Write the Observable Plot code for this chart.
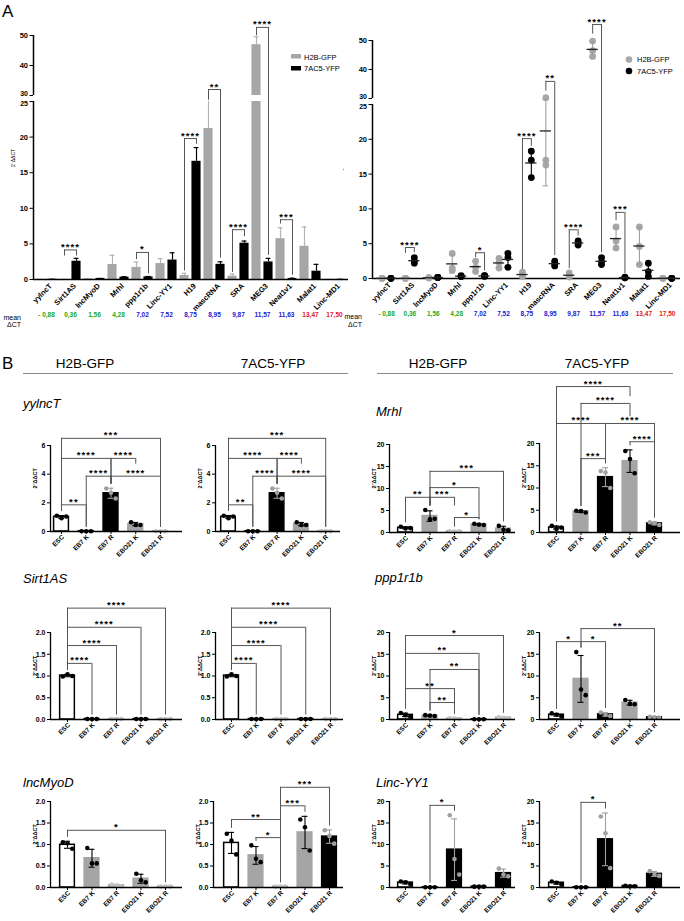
<!DOCTYPE html>
<html><head><meta charset="utf-8">
<script src="https://cdn.jsdelivr.net/npm/d3@7"></script>
<script src="https://cdn.jsdelivr.net/npm/@observablehq/plot@0.6"></script>
<style>
body{margin:0;background:#fff;}
#root{position:relative;width:684px;height:921px;overflow:hidden;background:#fff;}
</style></head><body><div id="root"></div>
<script>
// ---------------- DATA ----------------
// Panel A
const genes = ["yylncT","Sirt1AS","lncMyoD","Mrhl","ppp1r1b","Linc-YY1","H19","mascRNA","SRA","MEG3","Neat1v1","Malat1","Linc-MD1"];
const meanDCT = ["- 0,88","0,36","1,56","4,28","7,02","7,52","8,75","8,95","9,87","11,57","11,63","13,47","17,50"];
const dctClass = ["g","g","g","g","b","b","b","b","b","b","b","r","r"];
const h2bA = [[0.02,0.02,0.02],[0.02,0.02,0.02],[0.1,0.08,0.12],[1.2,1.5,3.6],[1.0,1.6,2.5],[1.5,2.3,2.9],[0.3,0.5,0.9],[16.3,17.0,30.3],[0.2,0.4,0.8],[44.5,46.5,49.8],[4.4,5.4,7.4],[2.0,4.6,7.4],[0.02,0.02,0.02]];
const yfpA = [[0.03,0.03,0.03],[2.2,2.5,3.0],[0.15,0.15,0.15],[0.3,0.3,0.4],[0.3,0.4,0.4],[1.6,3.0,3.6],[14.5,17.0,18.3],[1.8,2.1,2.5],[4.8,5.1,5.4],[2.0,2.4,3.0],[0.1,0.1,0.2],[0.3,1.0,2.2],[0.02,0.02,0.02]];
const yTicksA = [0,5,10,15,20,25,30,40,50];
const bracketGenesA = ["Sirt1AS","ppp1r1b","H19","mascRNA","SRA","MEG3","Neat1v1"];
const bracketStarsA = ["****","*","****","**","****","****","***"];
const bracketTopAL = [4.15,3.8,19.8,32,7.0,52.7,8.4];
const legH2bAL = [3.3,2.8,1.2,26,1.0,49.9,7.8];
const legYfpAL = [3.3,0.8,19.0,3.0,6.0,3.4,0.6];
const bracketTopAR = [4.45,3.7,20.1,35.9,7.0,55.5,9.5];
const legH2bAR = [3.6,3.0,1.3,32.5,1.4,52.2,8.3];
const legYfpAR = [3.7,1.1,19.0,3.3,6.1,3.7,0.7];

// Panel B
const conds = ["ESC","EB7 K","EB7 R","EBO21 K","EBO21 R"];
const yylncT_H2B  = [[1.1,0.92,1.05],[0.02,0.02,0.02],[3.0,2.7,2.3],[0.65,0.45,0.45],[0.02,0.02,0.02]];
const yylncT_7AC5 = [[1.1,0.92,1.05],[0.02,0.02,0.02],[3.0,2.7,2.3],[0.65,0.45,0.45],[0.02,0.02,0.02]];
const Mrhl_H2B    = [[1.3,0.9,1.0],[5.1,3.0,3.1],[0.3,0.2,0.25],[2.0,1.8,1.7],[1.5,0.6,0.5]];
const Mrhl_7AC5   = [[1.5,0.8,1.1],[4.9,4.8,4.5],[13.8,13.5,10.0],[18.3,16.5,13.3],[2.3,2.1,1.7]];
const Sirt1AS_H2B = [[0.99,1.04,1.0],[0.01,0.01,0.01],[0.01,0.01,0.01],[0.01,0.01,0.01],[0.01,0.01,0.01]];
const Sirt1AS_7AC5= [[0.99,1.04,1.0],[0.01,0.01,0.01],[0.01,0.01,0.01],[0.01,0.01,0.01],[0.01,0.01,0.01]];
const ppp1r1b_H2B = [[1.5,1.0,0.7],[1.0,0.9,0.8],[0.3,0.2,0.1],[0.05,0.05,0.05],[0.5,0.4,0.3]];
const ppp1r1b_7AC5= [[1.4,1.1,0.8],[15.5,6.9,5.6],[1.6,1.1,0.8],[4.5,3.6,3.5],[0.6,0.5,0.4]];
const lncMyoD_H2B = [[1.05,1.03,0.9],[0.92,0.56,0.56],[0.07,0.05,0.03],[0.32,0.17,0.12],[0.02,0.02,0.02]];
const lncMyoD_7AC5= [[1.25,1.09,0.77],[0.98,0.67,0.59],[0.02,0.02,0.02],[1.58,1.4,0.86],[1.33,1.2,1.02]];
const LincYY1_H2B = [[1.4,1.2,0.8],[0.05,0.05,0.05],[16.8,6.6,3.0],[0.2,0.2,0.2],[4.4,3.0,2.6]];
const LincYY1_7AC5= [[1.4,1.1,0.8],[0.05,0.05,0.05],[16.5,12.6,4.5],[0.4,0.3,0.3],[3.8,3.0,2.7]];
// brackets: [from, to, height, stars, (leg bottom left), (leg bottom right)]
const yylncT_br = [[0,4,6.5,"***"],[0,2,5.1,"****"],[2,3,5.1,"****",null,4.7],[1,2,3.86,"****"],[2,4,3.86,"****"],[0,1,1.86,"**"]];
const MrhlH_br  = [[1,4,13.9,"***"],[1,3,10.2,"*"],[0,1,8.0,"**"],[1,2,8.0,"***",null,6.0],[2,3,3.4,"*"]];
const MrhlY_br  = [[0,3,32.8,"****",null,30.5],[1,3,29,"****",null,26],[0,2,24.5,"****"],[2,4,24.5,"****",17.5],[3,4,20.4,"****"],[1,2,16.6,"***"]];
const Sirt_br   = [[0,4,2.56,"****"],[0,3,2.12,"****"],[0,2,1.7,"****"],[0,1,1.29,"****"]];
const pppH_br   = [[0,4,19.3,"*"],[0,3,15.2,"**"],[1,3,11.5,"**"],[0,2,7.1,"**"],[1,2,3.9,"**"]];
const pppY_br   = [[1,4,20.9,"**",17.9],[0,1,17.9,"*"],[1,2,17.9,"*"]];
const lncH_br   = [[0,4,1.33,"*"]];
const lncY_br   = [[2,4,2.33,"***"],[2,3,1.9,"***"],[0,2,1.58,"**"],[1,2,1.16,"*"]];
const yy1H_br   = [[1,2,19.1,"*"]];
const yy1Y_br   = [[1,2,19.8,"*"]];

// ---------------- STYLE ----------------
const FONT = '"Liberation Sans", Arial, Helvetica, sans-serif';
const GRAY = "#a6a6a6";
const BRK = "#555";
const FILL = {w:"#ffffff", k:"#000000", g:"#a5a5a5"};
const DOT  = {k:"#000000", g:"#a0a0a0", l:"#c4c4c4"};
const DCTCOL = {g:"#1da81d", b:"#2020d0", r:"#e01818"};
const root = document.getElementById("root");
const baseStyle = {fontFamily: FONT, fontWeight: "bold", background: "transparent", overflow: "visible", position: "absolute"};

function place(svg, left, top){
  svg.style.left = left + "px"; svg.style.top = top + "px"; svg.style.maxWidth = "none";
  d3.select(svg).selectAll("text").filter(function(){return /^\*+$/.test(this.textContent);}).attr("letter-spacing","1.1");
  root.appendChild(svg);
}
function statsOf(r){const m=d3.mean(r), s=d3.deviation(r); return {m, sd:s, lo:m-s, hi:m+s, max:d3.max(r)};}

// ---------------- PANEL A ----------------
const aRows = [];
genes.forEach((g,gi)=>[h2bA[gi], yfpA[gi]].forEach((r,s)=>aRows.push({gene:g, gi, s, reps:r, ...statsOf(r)})));
const clipErr = d => d.m < 25 && d.hi > 25;
const tickFmtA = d => (d===30 || d===25) ? "" : d;

function bracketMarks(tops, legL, legR, xL, xR){
  const b = bracketGenesA.map((g,j)=>({gi:genes.indexOf(g), top:tops[j], bl:legL[j], br:legR[j], label:bracketStarsA[j]}));
  return [
    Plot.ruleY(b, {y:"top", x1:d=>xL(d.gi), x2:d=>xR(d.gi), stroke:BRK, strokeWidth:1}),
    Plot.ruleX(b, {x:d=>xL(d.gi), y1:"bl", y2:"top", stroke:BRK, strokeWidth:1}),
    Plot.ruleX(b, {x:d=>xR(d.gi), y1:"br", y2:"top", stroke:BRK, strokeWidth:1}),
    Plot.text(b, {x:d=>(xL(d.gi)+xR(d.gi))/2, y:"top", text:"label", lineAnchor:"bottom", dy:0, fontSize:9.5, fontWeight:"bold"})
  ];
}
function breakLabels(){
  return [
    Plot.text([30], {y:d=>d, frameAnchor:"left", text:d=>String(d), textAnchor:"end", dx:-5.5, dy:-1.8, fontSize:7}),
    Plot.text([25], {y:d=>d, frameAnchor:"left", text:d=>String(d), textAnchor:"end", dx:-5.5, dy:1.8, fontSize:7})
  ];
}

// left: bar chart
{
  const xc = d => 2*d.gi + d.s + 0.5;
  const svg = Plot.plot({
    width:350, height:330, marginLeft:33, marginRight:2, marginTop:35, marginBottom:51,
    style:{...baseStyle, fontSize:"7.5px"},
    x:{type:"linear", domain:[0,26], range:[34,346], axis:null},
    y:{type:"linear", domain:[0,25,30,50], range:[279,101,95,35], ticks:yTicksA, tickSize:3.5, tickPadding:2, tickFormat:tickFmtA, label:null},
    marks:[
      Plot.rectY(aRows, {x1:d=>xc(d)-0.38, x2:d=>xc(d)+0.38, y1:0, y2:d=>Math.min(d.m,25), fill:d=>d.s?"#000":GRAY}),
      Plot.rectY(aRows.filter(d=>d.m>30), {x1:d=>xc(d)-0.38, x2:d=>xc(d)+0.38, y1:30, y2:"m", fill:d=>d.s?"#000":GRAY}),
      Plot.ruleX(aRows, {x:xc, y1:"m", y2:d=>clipErr(d)?25:d.hi, stroke:d=>d.s?"#000":"#b4b4b4", strokeWidth:1.2}),
      Plot.ruleY(aRows.filter(d=>!clipErr(d)), {y:"hi", x1:d=>xc(d)-0.2, x2:d=>xc(d)+0.2, stroke:d=>d.s?"#000":"#b4b4b4", strokeWidth:1.2}),
      Plot.ruleY([0], {stroke:"#000", strokeWidth:1.3}),
      Plot.ruleX([-1/12], {y1:0, y2:25, stroke:"#000", strokeWidth:1.5}),
      Plot.ruleX([-1/12], {y1:30, y2:50, stroke:"#000", strokeWidth:1.5}),
      ...breakLabels(),
      ...bracketMarks(bracketTopAL, legH2bAL, legYfpAL, gi=>2*gi+0.5, gi=>2*gi+1.5),
      Plot.text(genes, {x:(d,i)=>2*i+1, frameAnchor:"bottom", text:d=>d, rotate:-45, textAnchor:"end", dx:6, dy:7, fontSize:7.5}),
      Plot.text(meanDCT, {x:(d,i)=>2*i+1, frameAnchor:"bottom", text:d=>d, dy:37.5, fontSize:6.5, fill:(d,i)=>DCTCOL[dctClass[i]]}),
      Plot.text([15.8], {y:d=>d, frameAnchor:"left", dx:-20, rotate:-90, text:()=>"2⁻ΔΔCT", fontSize:5, fontWeight:"normal"})
    ]
  });
  place(svg, 0, 0);
}
// right: scatter dot plot
{
  const xv = d => d.gi + (d.s ? 0.19 : -0.19);
  const pts = aRows.flatMap(d => d.reps.map(v => ({...d, v})));
  const svg = Plot.plot({
    width:339, height:330, marginLeft:27, marginRight:4, marginTop:40, marginBottom:52,
    style:{...baseStyle, fontSize:"7.5px"},
    x:{type:"linear", domain:[0,12], range:[41,321.8], axis:null},
    y:{type:"linear", domain:[0,25,30,50], range:[278,104,98,40], ticks:yTicksA, tickSize:3.5, tickPadding:2, tickFormat:tickFmtA, label:null},
    marks:[
      Plot.ruleY([0], {stroke:"#000", strokeWidth:1.3}),
      Plot.ruleX([-14/23.4], {y1:0, y2:25, stroke:"#000", strokeWidth:1.5}),
      Plot.ruleX([-14/23.4], {y1:30, y2:50, stroke:"#000", strokeWidth:1.5}),
      ...breakLabels(),
      Plot.dot(pts, {x:xv, y:"v", r:3.4, fill:d=>d.s?"#000":"#a8a8a8"}),
      Plot.ruleX(aRows, {x:xv, y1:d=>Math.max(0,d.lo), y2:"hi", stroke:d=>d.s?"#000":"#a0a0a0", strokeWidth:1.1}),
      Plot.ruleY(aRows, {y:"hi", x1:d=>xv(d)-0.12, x2:d=>xv(d)+0.12, stroke:d=>d.s?"#000":"#a0a0a0", strokeWidth:1.1}),
      Plot.ruleY(aRows.filter(d=>d.lo>0), {y:"lo", x1:d=>xv(d)-0.12, x2:d=>xv(d)+0.12, stroke:d=>d.s?"#000":"#a0a0a0", strokeWidth:1.1}),
      Plot.ruleY(aRows, {y:"m", x1:d=>xv(d)-0.24, x2:d=>xv(d)+0.24, stroke:"#222", strokeWidth:1.3}),
      ...bracketMarks(bracketTopAR, legH2bAR, legYfpAR, gi=>gi-0.19, gi=>gi+0.19),
      Plot.text(genes, {x:(d,i)=>i, frameAnchor:"bottom", text:d=>d, rotate:-45, textAnchor:"end", dx:5, dy:7, fontSize:7.5}),
      Plot.text(meanDCT, {x:(d,i)=>i, frameAnchor:"bottom", text:d=>d, dy:37.5, fontSize:6.5, fill:(d,i)=>DCTCOL[dctClass[i]]}),
      Plot.text([15.5], {y:d=>d, frameAnchor:"left", dx:-29, rotate:-90, text:()=>"-", fontSize:6, fontWeight:"normal"})
    ]
  });
  place(svg, 345, 0);
}

// ---------------- PANEL B ----------------
function barPanel(o){
  const pxu = (o.y0 - o.yt)/o.ymax;
  const rows = o.reps.map((r,i)=>{const s=statsOf(r); return {i, ...s, top:Math.max(s.hi,s.max), fill:o.fills[i], dot:o.dots[i]};});
  const gap = 4/pxu;
  const br = o.brackets.map(([i1,i2,top,label,bl,brr])=>({i1,i2,top,label, bl: bl ?? rows[i1].top+gap, br: brr ?? rows[i2].top+gap}));
  const hiY = Math.max(o.ymax, d3.max(br, d=>d.top) ?? 0);
  const top = Math.floor(o.y0 - hiY*pxu - 16);
  const left = o.ax - 30;
  const width = o.xe - left + 2;
  const height = o.y0 - top + 42;
  const axisV = (o.ax - o.c0)/o.sp;
  const cap = 3/o.sp;
  const legs = br.flatMap(d=>[{x:d.i1, y1:d.bl, y2:d.top},{x:d.i2, y1:d.br, y2:d.top}]);
  const pts = rows.flatMap(d => o.reps[d.i].map((v,j)=>({x:d.i+(j-1)*(4.7/o.sp), v, dot:d.dot})));
  const svg = Plot.plot({
    width, height, marginLeft:30, marginRight:2, marginTop:o.yt-top, marginBottom:42,
    style:{...baseStyle, fontSize:"7px"},
    x:{type:"linear", domain:[0,4], range:[o.c0-left, o.c0+4*o.sp-left], axis:null},
    y:{domain:[0,o.ymax], ticks:o.ticks, tickSize:3, tickPadding:2, tickFormat:o.fmt, label:null},
    marks:[
      Plot.rectY(rows, {x1:d=>d.i-0.3, x2:d=>d.i+0.3, y1:0, y2:"m", fill:d=>FILL[d.fill], stroke:d=>d.fill==="w"?"#000":FILL[d.fill], strokeWidth:1.5}),
      Plot.ruleX(rows, {x:"i", y1:d=>Math.max(0,d.lo), y2:"hi", stroke:d=>DOT[d.dot], strokeWidth:1.1}),
      Plot.ruleY(rows, {y:"hi", x1:d=>d.i-cap, x2:d=>d.i+cap, stroke:d=>DOT[d.dot], strokeWidth:1.1}),
      Plot.ruleY(rows.filter(d=>d.lo>0.02*o.ymax), {y:"lo", x1:d=>d.i-cap, x2:d=>d.i+cap, stroke:d=>DOT[d.dot], strokeWidth:1.1}),
      Plot.dot(pts, {x:"x", y:"v", r:2.3, fill:d=>DOT[d.dot]}),
      Plot.ruleY([0], {stroke:"#000", strokeWidth:1.3}),
      Plot.ruleX([axisV], {y1:0, y2:o.ymax, stroke:"#000", strokeWidth:1.3}),
      Plot.ruleX(conds, {x:(d,i)=>i, y1:0, y2:-3/pxu, stroke:"#000", strokeWidth:1}),
      Plot.ruleY(br, {y:"top", x1:"i1", x2:"i2", stroke:BRK, strokeWidth:1}),
      Plot.ruleX(legs, {x:"x", y1:"y1", y2:"y2", stroke:BRK, strokeWidth:1}),
      Plot.text(br, {x:d=>(d.i1+d.i2)/2, y:"top", text:"label", lineAnchor:"bottom", dy:0, fontSize:9.5}),
      Plot.text(conds, {x:(d,i)=>i, frameAnchor:"bottom", text:d=>d, rotate:-45, textAnchor:"end", dx:3, dy:6, fontSize:6.5}),
      Plot.text([o.ymax/2], {y:d=>d, frameAnchor:"left", dx:-15, rotate:-90, text:()=>"2⁻ΔΔCT", fontSize:5.5})
    ]
  });
  place(svg, left, top);
}
const f1 = d3.format(".1f"), f0 = d3.format("d");
const T6=[0,2,4,6], T20=[0,5,10,15,20], T2=[0,0.5,1,1.5,2];
barPanel({ax:50, xe:182, y0:531, yt:445, ymax:6, ticks:T6, fmt:f0, c0:61, sp:24.75, reps:yylncT_H2B, fills:["w","k","k","g","g"], dots:["k","k","g","k","l"], brackets:yylncT_br});
barPanel({ax:215, xe:340, y0:531, yt:445, ymax:6, ticks:T6, fmt:f0, c0:228, sp:24.3, reps:yylncT_7AC5, fills:["w","k","k","g","g"], dots:["k","k","g","k","l"], brackets:yylncT_br});
barPanel({ax:389, xe:515, y0:532, yt:444, ymax:20, ticks:T20, fmt:f0, c0:405, sp:24.5, reps:Mrhl_H2B, fills:["w","g","g","g","g"], dots:["k","k","l","k","k"], brackets:MrhlH_br});
barPanel({ax:539, xe:680, y0:532, yt:443, ymax:20, ticks:T20, fmt:f0, c0:556, sp:24.5, reps:Mrhl_7AC5, fills:["w","g","k","g","k"], dots:["k","k","g","k","g"], brackets:MrhlY_br});
barPanel({ax:50, xe:182, y0:719, yt:632, ymax:2, ticks:T2, fmt:f1, c0:67, sp:24.5, reps:Sirt1AS_H2B, fills:["w","k","g","k","g"], dots:["k","k","l","k","l"], brackets:Sirt_br});
barPanel({ax:215, xe:343, y0:719, yt:632, ymax:2, ticks:T2, fmt:f1, c0:231, sp:24.75, reps:Sirt1AS_7AC5, fills:["w","k","g","k","g"], dots:["k","k","l","k","l"], brackets:Sirt_br});
barPanel({ax:389, xe:515, y0:719, yt:632, ymax:20, ticks:T20, fmt:f0, c0:405, sp:24.5, reps:ppp1r1b_H2B, fills:["w","g","g","k","g"], dots:["k","k","l","k","l"], brackets:pppH_br});
barPanel({ax:539, xe:680, y0:719, yt:632, ymax:20, ticks:T20, fmt:f0, c0:556, sp:24.5, reps:ppp1r1b_7AC5, fills:["w","g","k","g","k"], dots:["k","k","g","k","g"], brackets:pppY_br});
barPanel({ax:50, xe:182, y0:887, yt:801, ymax:2, ticks:T2, fmt:f1, c0:67, sp:24.5, reps:lncMyoD_H2B, fills:["w","g","g","g","g"], dots:["k","k","l","k","l"], brackets:lncH_br});
barPanel({ax:213, xe:343, y0:887, yt:801, ymax:2, ticks:T2, fmt:f1, c0:231, sp:24.5, reps:lncMyoD_7AC5, fills:["w","g","g","g","k"], dots:["k","k","l","k","g"], brackets:lncY_br});
barPanel({ax:389, xe:515, y0:887, yt:801, ymax:20, ticks:T20, fmt:f0, c0:405, sp:24.5, reps:LincYY1_H2B, fills:["w","k","k","k","k"], dots:["k","k","g","k","g"], brackets:yy1H_br});
barPanel({ax:539, xe:680, y0:887, yt:801, ymax:20, ticks:T20, fmt:f0, c0:556, sp:24.5, reps:LincYY1_7AC5, fills:["w","k","k","k","k"], dots:["k","k","g","k","g"], brackets:yy1Y_br});

// ---------------- LABELS / LEGENDS ----------------
const ov = d3.create("svg").attr("width",684).attr("height",921)
  .style("position","absolute").style("left","0").style("top","0").style("font-family",FONT).style("overflow","visible");
function txt(x,y,s,size,o={}){
  ov.append("text").attr("x",x).attr("y",y).attr("font-size",size)
    .attr("font-style",o.italic?"italic":null).attr("font-weight",o.bold?"bold":null)
    .attr("text-anchor",o.anchor||"start").attr("fill",o.fill||"#000").text(s);
}
txt(2,17,"A",17); txt(2,369,"B",17);
txt(85,368,"H2B-GFP",13.5,{anchor:"middle"}); txt(273,368,"7AC5-YFP",13.5,{anchor:"middle"});
txt(438,368,"H2B-GFP",13.5,{anchor:"middle"}); txt(597,368,"7AC5-YFP",13.5,{anchor:"middle"});
ov.append("line").attr("x1",23).attr("x2",348).attr("y1",373.5).attr("y2",373.5).attr("stroke","#888");
ov.append("line").attr("x1",377).attr("x2",673).attr("y1",373.5).attr("y2",373.5).attr("stroke","#888");
txt(23,408,"yylncT",13,{italic:true}); txt(376,416,"Mrhl",13,{italic:true});
txt(23,583,"Sirt1AS",13,{italic:true}); txt(375,582,"ppp1r1b",13,{italic:true});
txt(23,787,"lncMyoD",13,{italic:true}); txt(376,787,"Linc-YY1",13,{italic:true});
ov.append("rect").attr("x",291).attr("y",54).attr("width",10).attr("height",4.5).attr("fill",GRAY);
ov.append("rect").attr("x",291).attr("y",66).attr("width",10).attr("height",4.5).attr("fill","#000");
txt(304,59.5,"H2B-GFP",7.5); txt(304,71,"7AC5-YFP",7.5);
ov.append("circle").attr("cx",629).attr("cy",59.5).attr("r",3.3).attr("fill","#a8a8a8");
ov.append("circle").attr("cx",629).attr("cy",71).attr("r",3.3).attr("fill","#000");
txt(637,62,"H2B-GFP",7.5); txt(637,73.5,"7AC5-YFP",7.5);
txt(21,319.5,"mean",7,{anchor:"end"}); txt(21,327,"ΔCT",7,{anchor:"end"});
txt(362,319,"mean",7,{anchor:"end"}); txt(362,326.5,"ΔCT",7,{anchor:"end"});
root.appendChild(ov.node());
</script></body></html>
